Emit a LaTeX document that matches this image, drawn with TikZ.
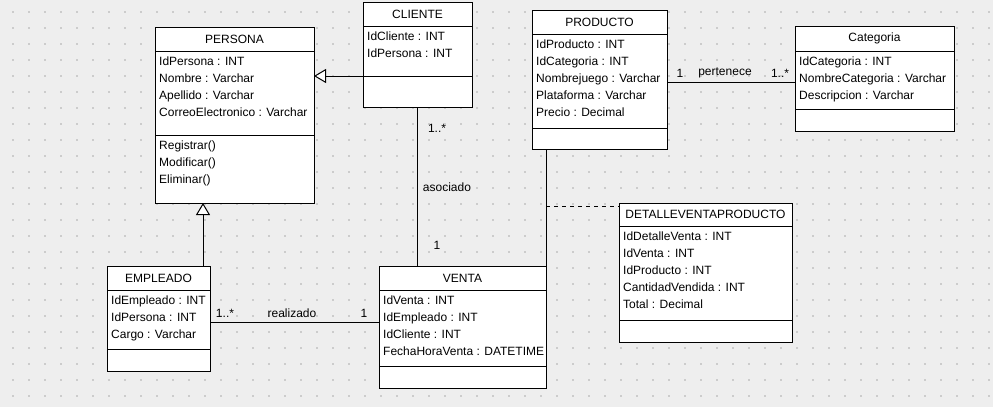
\documentclass[tikz,border=0pt]{standalone}
\usepackage{fontspec}
\setmainfont{Liberation Sans}
\usetikzlibrary{arrows.meta}
\usetikzlibrary{shadows}
\usetikzlibrary{positioning}

\definecolor{canvasgray}{HTML}{EEEEEE}
\definecolor{dotgray}{HTML}{CCCCCC}

% clase UML: nombre, esquina, ancho, alturas (cabecera, atributos, metodos), titulo, atributos
\newcommand{\umlclass}[8]{%
  \node[classpart, minimum width=#3pt, minimum height=#4pt] (#1) at #2 {#7};
  \node[classpart, minimum width=#3pt, minimum height=#5pt] (#1-a) at (#1.south west) {};
  \node[classpart, minimum width=#3pt, minimum height=#6pt] (#1-m) at (#1-a.south west) {};
  \node[members] (#1-at) at ([shift={(4,2)}]#1-a.north west) {\strut #8};
}

\begin{document}
\begin{tikzpicture}[x=1pt,y=-1pt,
  font=\fontsize{12}{17}\selectfont,
  classpart/.style={draw, fill=white, line width=1pt, inner sep=0pt, outer sep=0pt, anchor=north west,
    drop shadow={shadow xshift=1pt, shadow yshift=-1pt, fill=black!40, opacity=1}},
  members/.style={anchor=north west, align=left, inner sep=0pt},
  link/.style={line width=1pt},
  inherit/.style={line width=1pt, -{Triangle[open, length=12pt, width=14pt, fill=white]}},
  mult/.style={inner sep=0pt}]

  % fondo con rejilla
  \fill[canvasgray] (0,0) rectangle (993,407);
  \foreach \x in {12,28,...,988}
    \foreach \y in {11,27,...,403}
      \fill[dotgray] (\x,\y) rectangle +(1.6,1.6);

  % clases
  \umlclass{persona}{(155,27)}{159}{24}{84}{68}{PERSONA}{IdPersona : INT\\Nombre : Varchar\\Apellido : Varchar\\CorreoElectronico : Varchar}
  \node[members] (persona-mt) at ([shift={(4,2)}]persona-m.north west) {\strut Registrar()\\Modificar()\\Eliminar()};
  \umlclass{cliente}{(363,2)}{109}{24}{50}{31}{CLIENTE}{IdCliente : INT\\IdPersona : INT}
  \umlclass{producto}{(532,10)}{135}{24}{94}{21}{PRODUCTO}{IdProducto : INT\\IdCategoria : INT\\Nombrejuego : Varchar\\Plataforma : Varchar\\Precio : Decimal}
  \umlclass{categoria}{(795,26)}{159}{25}{58}{22}{Categoria}{IdCategoria : INT\\NombreCategoria : Varchar\\Descripcion : Varchar}
  \umlclass{empleado}{(107,266)}{103}{24}{59}{22}{EMPLEADO}{IdEmpleado : INT\\IdPersona : INT\\Cargo : Varchar}
  \umlclass{venta}{(379,266)}{167}{24}{76}{22}{VENTA}{IdVenta : INT\\IdEmpleado : INT\\IdCliente : INT\\FechaHoraVenta : DATETIME}
  \umlclass{detalle}{(619,203)}{173}{23}{94}{22}{DETALLEVENTAPRODUCTO}{IdDetalleVenta : INT\\IdVenta : INT\\IdProducto : INT\\CantidadVendida : INT\\Total : Decimal}

  % herencia
  \draw[inherit] (cliente-m.north west) -- (cliente-m.north west -| persona-a.east);
  \draw[inherit] ([xshift=44.5pt]empleado.north) -- ([xshift=44.5pt]empleado.north |- persona-m.south);

  % asociaciones
  \draw[link] (cliente-m.south) -- (cliente-m.south |- venta.north);
  \node[mult] (asoc-n) at (437,128) {1..*};
  \node[mult] (asoc-l) at (447,187) {asociado};
  \node[mult] (asoc-1) at (437,245) {1};

  \draw[link] (producto-a.east |- 0,82) coordinate (pert) -- (pert -| categoria.west);
  \node[mult] (pert-1) at (680,73) {1};
  \node[mult] (pert-l) at (725,73) {pertenece};
  \node[mult] (pert-n) at (780,73) {1..*};

  \draw[link] (empleado-a.east |- 0,322) coordinate (real) -- (real -| venta-a.west);
  \node[mult] (real-n) at (225,313) {1..*};
  \node[mult] (real-l) at (292,313) {realizado};
  \node[mult] (real-1) at (364,313) {1};

  \draw[link] (venta.north east) -- (venta.north east |- producto-m.south);
  \coordinate (clase-asoc) at (546,206);
  \draw[link, dash pattern=on 4pt off 4pt] (clase-asoc) -- (clase-asoc -| detalle.west);

\end{tikzpicture}
\end{document}
